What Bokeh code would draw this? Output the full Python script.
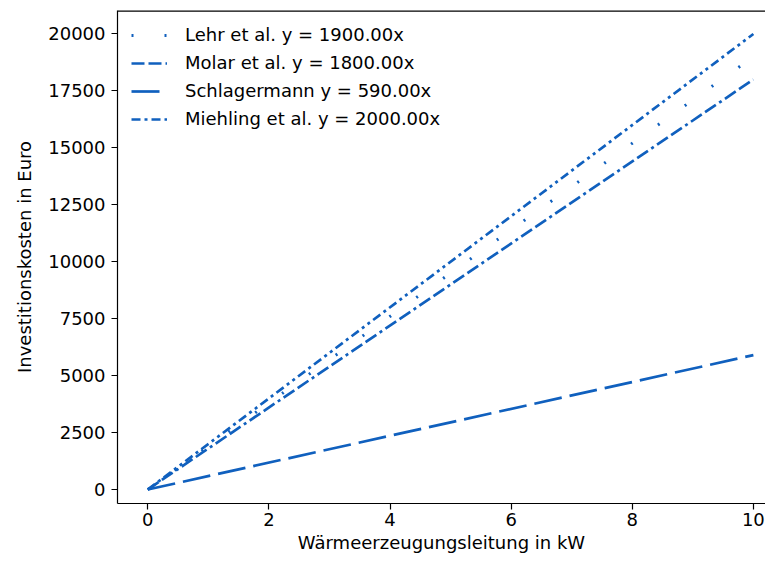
from bokeh.plotting import figure
from bokeh.models import FixedTicker, Legend, LegendItem, Range1d, Span
from bokeh.embed import file_html
from bokeh.resources import INLINE

# data
x_vals = [0, 10]
lehr = [0, 19000]
molar = [0, 18000]
schlagermann = [0, 5900]
miehling = [0, 20000]
labels = ["Lehr et al. y = 1900.00x", "Molar et al. y = 1800.00x",
          "Schlagermann y = 590.00x", "Miehling et al. y = 2000.00x"]
x_ticks = [0, 2, 4, 6, 8, 10]
y_ticks = [0, 2500, 5000, 7500, 10000, 12500, 15000, 17500, 20000]

FONT = "DejaVu Sans"
FS = "18px"
COLOR = "#1060be"

p = figure(width=765, height=555, output_backend="svg", toolbar_location=None,
           x_range=Range1d(-0.5, 10.2), y_range=Range1d(-614, 21030),
           min_border_left=117, min_border_right=0, min_border_top=10,
           min_border_bottom=52)
p.grid.visible = False
p.outline_line_color = None
p.background_fill_color = "white"

r1 = p.line(x_vals, lehr, line_color=COLOR, line_width=3, line_dash="2 31")
r2 = p.line(x_vals, molar, line_color=COLOR, line_width=2.7, line_dash="13 4 13 4 3 4")
r3 = p.line(x_vals, schlagermann, line_color=COLOR, line_width=2.7, line_dash="28 8")
r4 = p.line(x_vals, miehling, line_color=COLOR, line_width=2.7,
            line_dash="9 4 3 4 9 4 3 4 3 4")

for ax in (p.xaxis[0], p.yaxis[0]):
    ax.major_label_text_font = FONT
    ax.major_label_text_font_size = FS
    ax.major_label_text_color = "black"
    ax.axis_label_text_font = FONT
    ax.axis_label_text_font_size = FS
    ax.axis_label_text_font_style = "normal"
    ax.axis_label_text_color = "black"
    ax.major_tick_in = 0
    ax.major_tick_out = 6
    ax.minor_tick_line_color = None
    ax.axis_line_color = "black"
    ax.axis_line_width = 1.2
    ax.major_tick_line_width = 1.2

p.xaxis[0].ticker = FixedTicker(ticks=x_ticks)
p.yaxis[0].ticker = FixedTicker(ticks=y_ticks)
p.xaxis[0].axis_label = "Wärmeerzeugungsleitung in kW"
p.yaxis[0].axis_label = "Investitionskosten in Euro"
p.xaxis[0].major_label_standoff = 3
p.xaxis[0].axis_label_standoff = 3
p.yaxis[0].major_label_standoff = 6
p.yaxis[0].axis_label_standoff = 10

# top spine of the frame
p.add_layout(Span(location=p.y_range.end, dimension="width",
                  line_color="black", line_width=2.6))

legend = Legend(items=[LegendItem(label=labels[0], renderers=[r1]),
                       LegendItem(label=labels[1], renderers=[r2]),
                       LegendItem(label=labels[2], renderers=[r3]),
                       LegendItem(label=labels[3], renderers=[r4])],
                location="top_left", border_line_color=None,
                background_fill_alpha=0, margin=14, padding=13,
                glyph_width=36, glyph_height=20, spacing=7, label_standoff=18,
                label_text_font=FONT, label_text_font_size=FS,
                label_text_color="black")
p.add_layout(legend, "center")

open("out.html", "w").write(file_html(p, INLINE))
